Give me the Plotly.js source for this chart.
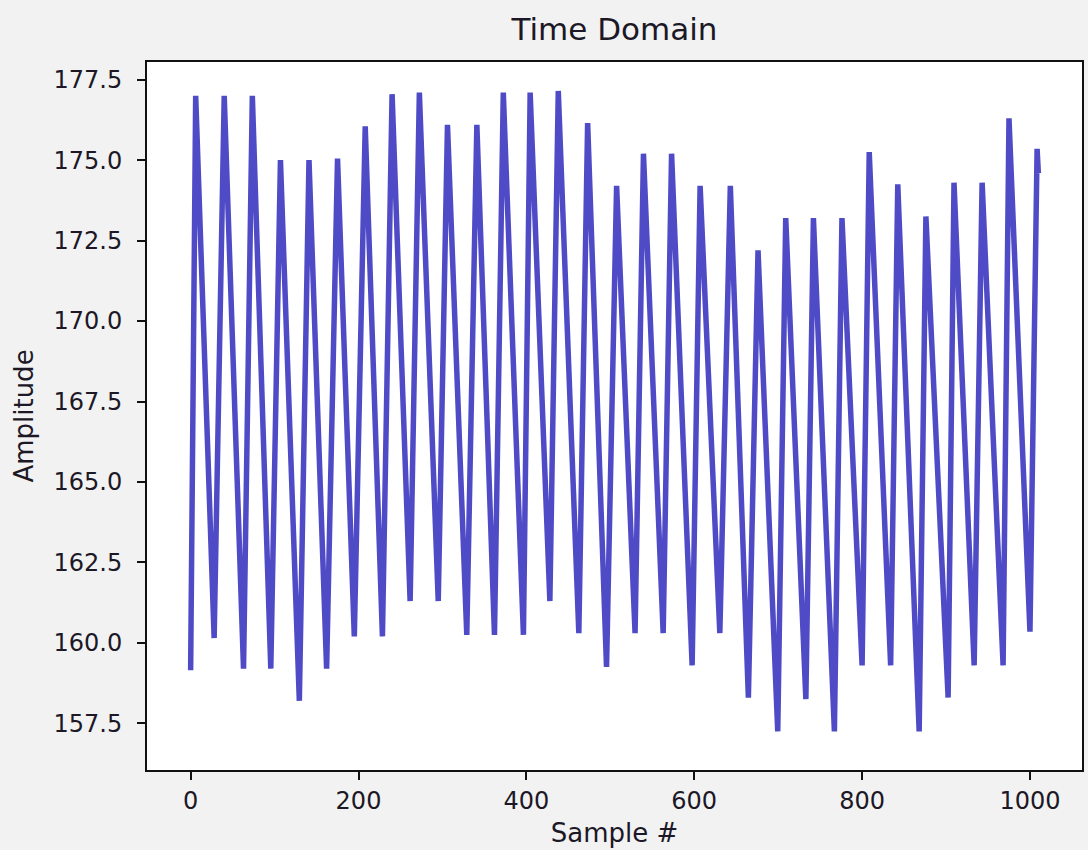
<!DOCTYPE html>
<html>
<head>
<meta charset="utf-8">
<script src="https://cdn.plot.ly/plotly-3.0.1.min.js"></script>
<style>
  html, body { margin: 0; padding: 0; background: #f2f2f2; }
  #chart { width: 1088px; height: 850px; }
</style>
</head>
<body>
<div id="chart"></div>
<script>
// Turning points of the signal (sample index, amplitude)
const sampleIdx = [
  0, 6, 28, 40, 63, 73.5, 95.5, 107, 129.5, 141, 162, 175, 195, 208, 228.5, 240,
  261.5, 272.5, 295, 306, 329, 341, 362, 372.5, 396.5, 404.5, 428, 438, 462.5, 473,
  495.5, 507.5, 529.5, 539.5, 563, 573, 597.5, 607, 630.5, 643, 664.5, 676, 699.5, 709,
  733, 742, 767, 776, 800, 808.5, 834, 842.5, 868, 876, 902.5, 909.5, 933.5, 943,
  968, 975, 1000, 1008.5, 1010
];
const amplitude = [
  159.15, 177.0, 160.15, 177.0, 159.2, 177.0, 159.2, 175.0, 158.2, 175.0, 159.2, 175.05, 160.2, 176.05, 160.2, 177.05,
  161.3, 177.1, 161.3, 176.1, 160.25, 176.1, 160.25, 177.1, 160.25, 177.1, 161.3, 177.15, 160.3, 176.15,
  159.25, 174.2, 160.3, 175.2, 160.3, 175.2, 159.3, 174.2, 160.3, 174.2, 158.3, 172.2, 157.25, 173.2,
  158.25, 173.2, 157.25, 173.2, 159.3, 175.25, 159.3, 174.25, 157.25, 173.25, 158.3, 174.3, 159.3, 174.3,
  159.3, 176.3, 160.35, 175.35, 174.6
];
const xTickVals = [0, 200, 400, 600, 800, 1000];
const yTickVals = [157.5, 160.0, 162.5, 165.0, 167.5, 170.0, 172.5, 175.0, 177.5];
const yTickText = ['157.5', '160.0', '162.5', '165.0', '167.5', '170.0', '172.5', '175.0', '177.5'];

const textColor = '#1c1826';
const fontFamily = 'DejaVu Sans, sans-serif';

const trace = {
  x: sampleIdx,
  y: amplitude,
  type: 'scatter',
  mode: 'lines',
  line: { color: '#4f4bc6', width: 5.5 },
  hoverinfo: 'x+y'
};

const axisCommon = {
  showgrid: false,
  zeroline: false,
  showline: true,
  linecolor: '#111111',
  linewidth: 2,
  mirror: true,
  ticks: 'outside',
  ticklen: 8,
  tickwidth: 2,
  tickcolor: '#111111',
  tickfont: { family: fontFamily, size: 24, color: textColor }
};

const layout = {
  width: 1088,
  height: 850,
  paper_bgcolor: '#f2f2f2',
  plot_bgcolor: '#ffffff',
  margin: { l: 147, r: 6, t: 62, b: 80 },
  showlegend: false,
  title: {
    text: 'Time Domain',
    font: { family: fontFamily, size: 31, color: textColor },
    x: 0.5, xref: 'paper', xanchor: 'center',
    y: 1 - 29 / 850, yref: 'container', yanchor: 'middle'
  },
  xaxis: Object.assign({}, axisCommon, {
    range: [-52, 1062],
    tickvals: xTickVals,
    ticktext: xTickVals.map(String),
    title: { text: 'Sample #', font: { family: fontFamily, size: 26, color: textColor }, standoff: 10 }
  }),
  yaxis: Object.assign({}, axisCommon, {
    range: [156.05, 178.05],
    tickvals: yTickVals,
    ticktext: yTickText,
    ticklabelstandoff: 10,
    title: { text: 'Amplitude', font: { family: fontFamily, size: 26, color: textColor }, standoff: 12 }
  })
};

Plotly.newPlot('chart', [trace], layout, { displayModeBar: false, staticPlot: true });
</script>
</body>
</html>
